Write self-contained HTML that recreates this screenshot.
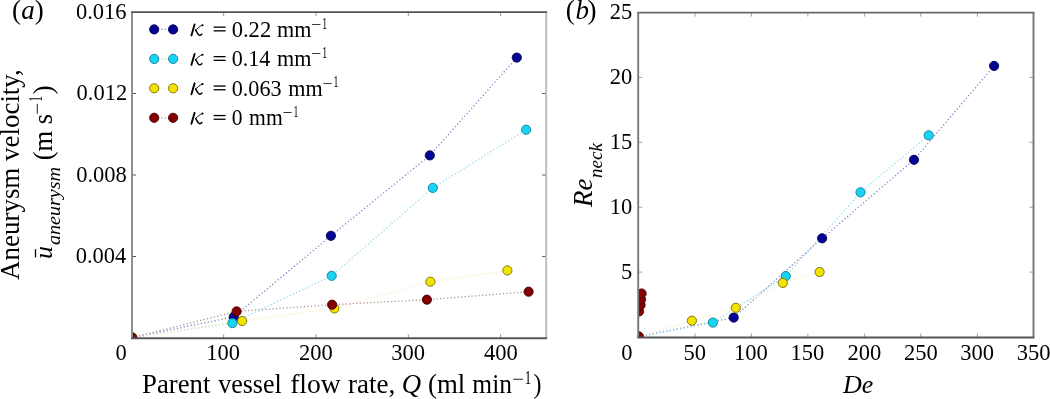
<!DOCTYPE html>
<html><head><meta charset="utf-8"><style>
html,body{margin:0;padding:0;background:#fff;}
body{width:1050px;height:399px;overflow:hidden;}
svg{display:block;will-change:transform;}
text{font-family:"Liberation Serif",serif;}
</style></head><body>
<svg width="1050" height="399" viewBox="0 0 1050 399">
<rect width="1050" height="399" fill="#fff"/>
<defs><clipPath id="cl"><rect x="132.0" y="12.1" width="414.2" height="326.1"/></clipPath><clipPath id="cr"><rect x="638.2" y="12.6" width="395.3" height="324.9"/></clipPath></defs>
<g clip-path="url(#cl)">
<polyline points="132.2,337.6 233.8,316.9 330.9,235.8 429.8,155.4 516.8,57.6" fill="none" stroke="#8a8ac8" stroke-width="1.3" stroke-dasharray="1.3 2.2"/>
<polyline points="132.2,337.6 232.4,323.1 331.7,275.8 432.8,187.9 526.1,129.7" fill="none" stroke="#94dcee" stroke-width="1.3" stroke-dasharray="1.3 2.2"/>
<polyline points="132.2,337.6 242.1,321.0 334.4,308.4 430.4,281.7 507.4,270.4" fill="none" stroke="#f2eebc" stroke-width="1.3" stroke-dasharray="1.3 2.2"/>
<polyline points="132.2,337.6 236.6,311.4 332.1,304.7 426.9,299.7 528.6,291.7" fill="none" stroke="#b4969e" stroke-width="1.3" stroke-dasharray="1.3 2.2"/>
<circle cx="132.2" cy="337.6" r="4.6" fill="#040494" stroke="#00004a" stroke-width="0.9"/>
<circle cx="233.8" cy="316.9" r="4.6" fill="#040494" stroke="#00004a" stroke-width="0.9"/>
<circle cx="330.9" cy="235.8" r="4.6" fill="#040494" stroke="#00004a" stroke-width="0.9"/>
<circle cx="429.8" cy="155.4" r="4.6" fill="#040494" stroke="#00004a" stroke-width="0.9"/>
<circle cx="516.8" cy="57.6" r="4.6" fill="#040494" stroke="#00004a" stroke-width="0.9"/>
<circle cx="132.2" cy="337.6" r="4.6" fill="#18d4f4" stroke="#0a7f99" stroke-width="0.9"/>
<circle cx="232.4" cy="323.1" r="4.6" fill="#18d4f4" stroke="#0a7f99" stroke-width="0.9"/>
<circle cx="331.7" cy="275.8" r="4.6" fill="#18d4f4" stroke="#0a7f99" stroke-width="0.9"/>
<circle cx="432.8" cy="187.9" r="4.6" fill="#18d4f4" stroke="#0a7f99" stroke-width="0.9"/>
<circle cx="526.1" cy="129.7" r="4.6" fill="#18d4f4" stroke="#0a7f99" stroke-width="0.9"/>
<circle cx="132.2" cy="337.6" r="4.6" fill="#f2e400" stroke="#7a6a00" stroke-width="0.9"/>
<circle cx="242.1" cy="321.0" r="4.6" fill="#f2e400" stroke="#7a6a00" stroke-width="0.9"/>
<circle cx="334.4" cy="308.4" r="4.6" fill="#f2e400" stroke="#7a6a00" stroke-width="0.9"/>
<circle cx="430.4" cy="281.7" r="4.6" fill="#f2e400" stroke="#7a6a00" stroke-width="0.9"/>
<circle cx="507.4" cy="270.4" r="4.6" fill="#f2e400" stroke="#7a6a00" stroke-width="0.9"/>
<circle cx="132.2" cy="337.6" r="4.6" fill="#850000" stroke="#450000" stroke-width="0.9"/>
<circle cx="236.6" cy="311.4" r="4.6" fill="#850000" stroke="#450000" stroke-width="0.9"/>
<circle cx="332.1" cy="304.7" r="4.6" fill="#850000" stroke="#450000" stroke-width="0.9"/>
<circle cx="426.9" cy="299.7" r="4.6" fill="#850000" stroke="#450000" stroke-width="0.9"/>
<circle cx="528.6" cy="291.7" r="4.6" fill="#850000" stroke="#450000" stroke-width="0.9"/>
</g>
<line x1="223.7" y1="338.2" x2="223.7" y2="334.2" stroke="#999" stroke-width="1"/>
<line x1="223.7" y1="12.1" x2="223.7" y2="16.1" stroke="#999" stroke-width="1"/>
<line x1="316.0" y1="338.2" x2="316.0" y2="334.2" stroke="#999" stroke-width="1"/>
<line x1="316.0" y1="12.1" x2="316.0" y2="16.1" stroke="#999" stroke-width="1"/>
<line x1="408.3" y1="338.2" x2="408.3" y2="334.2" stroke="#999" stroke-width="1"/>
<line x1="408.3" y1="12.1" x2="408.3" y2="16.1" stroke="#999" stroke-width="1"/>
<line x1="500.6" y1="338.2" x2="500.6" y2="334.2" stroke="#999" stroke-width="1"/>
<line x1="500.6" y1="12.1" x2="500.6" y2="16.1" stroke="#999" stroke-width="1"/>
<line x1="132.0" y1="256.5" x2="136.0" y2="256.5" stroke="#555" stroke-width="1"/>
<line x1="546.2" y1="256.5" x2="542.2" y2="256.5" stroke="#555" stroke-width="1"/>
<line x1="132.0" y1="175.0" x2="136.0" y2="175.0" stroke="#555" stroke-width="1"/>
<line x1="546.2" y1="175.0" x2="542.2" y2="175.0" stroke="#555" stroke-width="1"/>
<line x1="132.0" y1="93.5" x2="136.0" y2="93.5" stroke="#555" stroke-width="1"/>
<line x1="546.2" y1="93.5" x2="542.2" y2="93.5" stroke="#555" stroke-width="1"/>
<line x1="132.0" y1="12.1" x2="132.0" y2="338.2" stroke="#8a8a8a" stroke-width="1.9"/>
<line x1="546.2" y1="12.1" x2="546.2" y2="338.2" stroke="#bcbcbc" stroke-width="1.9"/>
<line x1="131.1" y1="12.1" x2="547.1" y2="12.1" stroke="#555" stroke-width="1.9"/>
<line x1="131.1" y1="338.2" x2="547.1" y2="338.2" stroke="#555" stroke-width="1.9"/>
<line x1="154.2" y1="29.4" x2="173.1" y2="29.4" stroke="#8a8ac8" stroke-width="1.3" stroke-dasharray="1.3 2.2"/>
<circle cx="154.2" cy="29.4" r="4.6" fill="#040494" stroke="#00004a" stroke-width="0.9"/>
<circle cx="173.1" cy="29.4" r="4.6" fill="#040494" stroke="#00004a" stroke-width="0.9"/>
<line x1="154.2" y1="58.9" x2="173.1" y2="58.9" stroke="#94dcee" stroke-width="1.3" stroke-dasharray="1.3 2.2"/>
<circle cx="154.2" cy="58.9" r="4.6" fill="#18d4f4" stroke="#0a7f99" stroke-width="0.9"/>
<circle cx="173.1" cy="58.9" r="4.6" fill="#18d4f4" stroke="#0a7f99" stroke-width="0.9"/>
<line x1="154.2" y1="88.3" x2="173.1" y2="88.3" stroke="#f2eebc" stroke-width="1.3" stroke-dasharray="1.3 2.2"/>
<circle cx="154.2" cy="88.3" r="4.6" fill="#f2e400" stroke="#7a6a00" stroke-width="0.9"/>
<circle cx="173.1" cy="88.3" r="4.6" fill="#f2e400" stroke="#7a6a00" stroke-width="0.9"/>
<line x1="154.2" y1="117.8" x2="173.1" y2="117.8" stroke="#b4969e" stroke-width="1.3" stroke-dasharray="1.3 2.2"/>
<circle cx="154.2" cy="117.8" r="4.6" fill="#850000" stroke="#450000" stroke-width="0.9"/>
<circle cx="173.1" cy="117.8" r="4.6" fill="#850000" stroke="#450000" stroke-width="0.9"/>
<g transform="translate(0,0.00)" fill="none" stroke="#000" stroke-linecap="round"><path d="M191.4,35.4 L194.6,24.4" stroke-width="1.9"/><path d="M195.4,30.3 C197.4,28.6 199.9,25.9 202.2,25.1" stroke-width="0.95"/><circle cx="202.5" cy="25.2" r="1.05" fill="#000" stroke="none"/><path d="M195.6,30.0 C196.5,31.4 197.5,33.5 198.5,34.7 C199.3,35.6 200.9,35.4 201.9,34.1" stroke-width="1.45"/></g>
<rect x="213.60" y="26.50" width="12.00" height="1.30" fill="#000"/>
<rect x="213.60" y="30.20" width="12.00" height="1.30" fill="#000"/>
<text x="231.70" y="36.80" font-family="Liberation Serif" font-size="22.5" textLength="39.48" lengthAdjust="spacingAndGlyphs" >0.22</text>
<text x="277.01" y="36.80" font-family="Liberation Serif" font-size="22.5" textLength="34.39" lengthAdjust="spacingAndGlyphs" >mm</text>
<text x="311.21" y="29.80" font-family="Liberation Serif" font-size="16" textLength="10.00" lengthAdjust="spacingAndGlyphs" >−</text>
<text x="322.25" y="28.50" font-family="Liberation Serif" font-size="16" textLength="4.86" lengthAdjust="spacingAndGlyphs" >1</text>
<g transform="translate(0,29.50)" fill="none" stroke="#000" stroke-linecap="round"><path d="M191.4,35.4 L194.6,24.4" stroke-width="1.9"/><path d="M195.4,30.3 C197.4,28.6 199.9,25.9 202.2,25.1" stroke-width="0.95"/><circle cx="202.5" cy="25.2" r="1.05" fill="#000" stroke="none"/><path d="M195.6,30.0 C196.5,31.4 197.5,33.5 198.5,34.7 C199.3,35.6 200.9,35.4 201.9,34.1" stroke-width="1.45"/></g>
<rect x="213.60" y="56.00" width="12.00" height="1.30" fill="#000"/>
<rect x="213.60" y="59.70" width="12.00" height="1.30" fill="#000"/>
<text x="231.72" y="66.30" font-family="Liberation Serif" font-size="22.5" textLength="38.55" lengthAdjust="spacingAndGlyphs" >0.14</text>
<text x="277.01" y="66.30" font-family="Liberation Serif" font-size="22.5" textLength="34.39" lengthAdjust="spacingAndGlyphs" >mm</text>
<text x="311.21" y="59.30" font-family="Liberation Serif" font-size="16" textLength="10.00" lengthAdjust="spacingAndGlyphs" >−</text>
<text x="322.25" y="58.00" font-family="Liberation Serif" font-size="16" textLength="4.86" lengthAdjust="spacingAndGlyphs" >1</text>
<g transform="translate(0,58.90)" fill="none" stroke="#000" stroke-linecap="round"><path d="M191.4,35.4 L194.6,24.4" stroke-width="1.9"/><path d="M195.4,30.3 C197.4,28.6 199.9,25.9 202.2,25.1" stroke-width="0.95"/><circle cx="202.5" cy="25.2" r="1.05" fill="#000" stroke="none"/><path d="M195.6,30.0 C196.5,31.4 197.5,33.5 198.5,34.7 C199.3,35.6 200.9,35.4 201.9,34.1" stroke-width="1.45"/></g>
<rect x="213.60" y="85.40" width="12.00" height="1.30" fill="#000"/>
<rect x="213.60" y="89.10" width="12.00" height="1.30" fill="#000"/>
<text x="231.71" y="95.70" font-family="Liberation Serif" font-size="22.5" textLength="49.90" lengthAdjust="spacingAndGlyphs" >0.063</text>
<text x="288.21" y="95.70" font-family="Liberation Serif" font-size="22.5" textLength="34.39" lengthAdjust="spacingAndGlyphs" >mm</text>
<text x="322.41" y="88.70" font-family="Liberation Serif" font-size="16" textLength="10.00" lengthAdjust="spacingAndGlyphs" >−</text>
<text x="333.45" y="87.40" font-family="Liberation Serif" font-size="16" textLength="4.86" lengthAdjust="spacingAndGlyphs" >1</text>
<g transform="translate(0,88.40)" fill="none" stroke="#000" stroke-linecap="round"><path d="M191.4,35.4 L194.6,24.4" stroke-width="1.9"/><path d="M195.4,30.3 C197.4,28.6 199.9,25.9 202.2,25.1" stroke-width="0.95"/><circle cx="202.5" cy="25.2" r="1.05" fill="#000" stroke="none"/><path d="M195.6,30.0 C196.5,31.4 197.5,33.5 198.5,34.7 C199.3,35.6 200.9,35.4 201.9,34.1" stroke-width="1.45"/></g>
<rect x="213.60" y="114.90" width="12.00" height="1.30" fill="#000"/>
<rect x="213.60" y="118.60" width="12.00" height="1.30" fill="#000"/>
<text x="231.74" y="125.20" font-family="Liberation Serif" font-size="22.5" textLength="10.78" lengthAdjust="spacingAndGlyphs" >0</text>
<text x="249.12" y="125.20" font-family="Liberation Serif" font-size="22.5" textLength="33.57" lengthAdjust="spacingAndGlyphs" >mm</text>
<text x="282.51" y="118.20" font-family="Liberation Serif" font-size="16" textLength="10.00" lengthAdjust="spacingAndGlyphs" >−</text>
<text x="293.55" y="116.90" font-family="Liberation Serif" font-size="16" textLength="4.86" lengthAdjust="spacingAndGlyphs" >1</text>
<text x="76.00" y="18.70" font-family="Liberation Serif" font-size="23.3" textLength="50.62" lengthAdjust="spacingAndGlyphs" >0.016</text>
<text x="76.60" y="100.10" font-family="Liberation Serif" font-size="23.3" textLength="50.62" lengthAdjust="spacingAndGlyphs" >0.012</text>
<text x="76.20" y="181.60" font-family="Liberation Serif" font-size="23.3" textLength="50.62" lengthAdjust="spacingAndGlyphs" >0.008</text>
<text x="75.70" y="263.10" font-family="Liberation Serif" font-size="23.3" textLength="50.62" lengthAdjust="spacingAndGlyphs" >0.004</text>
<text x="115.60" y="360.40" font-family="Liberation Serif" font-size="23.3" textLength="11.25" lengthAdjust="spacingAndGlyphs" >0</text>
<text x="206.25" y="360.40" font-family="Liberation Serif" font-size="23.3" textLength="33.75" lengthAdjust="spacingAndGlyphs" >100</text>
<text x="299.05" y="360.40" font-family="Liberation Serif" font-size="23.3" textLength="33.75" lengthAdjust="spacingAndGlyphs" >200</text>
<text x="391.30" y="360.40" font-family="Liberation Serif" font-size="23.3" textLength="33.75" lengthAdjust="spacingAndGlyphs" >300</text>
<text x="483.95" y="360.40" font-family="Liberation Serif" font-size="23.3" textLength="33.75" lengthAdjust="spacingAndGlyphs" >400</text>
<text x="142.09" y="393.00" font-family="Liberation Serif" font-size="26.3" textLength="68.30" lengthAdjust="spacingAndGlyphs" style="font-variant-ligatures:none">Parent</text>
<text x="218.20" y="393.00" font-family="Liberation Serif" font-size="26.3" textLength="63.57" lengthAdjust="spacingAndGlyphs" style="font-variant-ligatures:none">vessel</text>
<text x="290.16" y="393.00" font-family="Liberation Serif" font-size="26.3" textLength="50.65" lengthAdjust="spacingAndGlyphs" style="font-variant-ligatures:none">flow</text>
<text x="348.09" y="393.00" font-family="Liberation Serif" font-size="26.3" textLength="47.25" lengthAdjust="spacingAndGlyphs" style="font-variant-ligatures:none">rate,</text>
<text x="401.67" y="393.00" font-family="Liberation Serif" font-size="26.3" font-style="italic" textLength="19.33" lengthAdjust="spacingAndGlyphs" style="font-variant-ligatures:none">Q</text>
<text x="427.98" y="393.00" font-family="Liberation Serif" font-size="26.3" textLength="37.25" lengthAdjust="spacingAndGlyphs" style="font-variant-ligatures:none">(ml</text>
<text x="472.32" y="393.00" font-family="Liberation Serif" font-size="26.3" textLength="39.69" lengthAdjust="spacingAndGlyphs" style="font-variant-ligatures:none">min</text>
<text x="533.57" y="393.00" font-family="Liberation Serif" font-size="26.3" textLength="7.99" lengthAdjust="spacingAndGlyphs" style="font-variant-ligatures:none">)</text>
<text x="512.37" y="385.40" font-family="Liberation Serif" font-size="18" textLength="11.60" lengthAdjust="spacingAndGlyphs" >−</text>
<text x="524.66" y="384.00" font-family="Liberation Serif" font-size="18" textLength="6.43" lengthAdjust="spacingAndGlyphs" >1</text>
<text x="12.00" y="19.30" font-family="Liberation Serif" font-size="27" >(</text>
<text x="21.20" y="19.30" font-family="Liberation Serif" font-size="27" font-style="italic" >a</text>
<text x="34.70" y="19.30" font-family="Liberation Serif" font-size="27" >)</text>
<text transform="translate(19.40,279.90) rotate(-90)" font-family="Liberation Serif" font-size="27" textLength="210.70" lengthAdjust="spacingAndGlyphs">Aneurysm velocity,</text>
<text transform="translate(51.70,259.10) rotate(-90)" font-family="Liberation Serif" font-size="26" font-style="italic">u</text>
<line x1="35.5" y1="249.2" x2="35.5" y2="257.4" stroke="#000" stroke-width="1.3"/>
<text transform="translate(60.30,245.12) rotate(-90)" font-family="Liberation Serif" font-size="19.5" font-style="italic" textLength="78.17" lengthAdjust="spacingAndGlyphs">aneurysm</text>
<text transform="translate(52.00,160.31) rotate(-90)" font-family="Liberation Serif" font-size="26.3" textLength="46.44" lengthAdjust="spacingAndGlyphs">(m s</text>
<text transform="translate(43.30,114.67) rotate(-90)" font-family="Liberation Serif" font-size="18" textLength="12.09" lengthAdjust="spacingAndGlyphs">−</text>
<text transform="translate(42.40,101.51) rotate(-90)" font-family="Liberation Serif" font-size="18.5" textLength="5.27" lengthAdjust="spacingAndGlyphs">1</text>
<text transform="translate(52.40,94.43) rotate(-90)" font-family="Liberation Serif" font-size="27" textLength="9.25" lengthAdjust="spacingAndGlyphs">)</text>
<g clip-path="url(#cr)">
<polyline points="638.8,336.6 733.7,317.6 822.1,238.3 914.0,159.8 994.1,65.9" fill="none" stroke="#8a8ac8" stroke-width="1.3" stroke-dasharray="1.3 2.2"/>
<polyline points="638.8,336.6 712.9,322.6 785.8,276.1 860.5,192.3 928.7,135.3" fill="none" stroke="#94dcee" stroke-width="1.3" stroke-dasharray="1.3 2.2"/>
<polyline points="638.8,336.6 691.9,320.7 735.8,307.8 782.8,282.9 819.6,272.0" fill="none" stroke="#f2eebc" stroke-width="1.3" stroke-dasharray="1.3 2.2"/>
<polyline points="638.4,336.6 639.0,311.5 640.6,305.0 641.0,299.5 641.6,293.5" fill="none" stroke="#b4969e" stroke-width="1.3" stroke-dasharray="1.3 2.2"/>
<circle cx="638.8" cy="336.6" r="4.6" fill="#040494" stroke="#00004a" stroke-width="0.9"/>
<circle cx="733.7" cy="317.6" r="4.6" fill="#040494" stroke="#00004a" stroke-width="0.9"/>
<circle cx="822.1" cy="238.3" r="4.6" fill="#040494" stroke="#00004a" stroke-width="0.9"/>
<circle cx="914.0" cy="159.8" r="4.6" fill="#040494" stroke="#00004a" stroke-width="0.9"/>
<circle cx="994.1" cy="65.9" r="4.6" fill="#040494" stroke="#00004a" stroke-width="0.9"/>
<circle cx="638.8" cy="336.6" r="4.6" fill="#18d4f4" stroke="#0a7f99" stroke-width="0.9"/>
<circle cx="712.9" cy="322.6" r="4.6" fill="#18d4f4" stroke="#0a7f99" stroke-width="0.9"/>
<circle cx="785.8" cy="276.1" r="4.6" fill="#18d4f4" stroke="#0a7f99" stroke-width="0.9"/>
<circle cx="860.5" cy="192.3" r="4.6" fill="#18d4f4" stroke="#0a7f99" stroke-width="0.9"/>
<circle cx="928.7" cy="135.3" r="4.6" fill="#18d4f4" stroke="#0a7f99" stroke-width="0.9"/>
<circle cx="638.8" cy="336.6" r="4.6" fill="#f2e400" stroke="#7a6a00" stroke-width="0.9"/>
<circle cx="691.9" cy="320.7" r="4.6" fill="#f2e400" stroke="#7a6a00" stroke-width="0.9"/>
<circle cx="735.8" cy="307.8" r="4.6" fill="#f2e400" stroke="#7a6a00" stroke-width="0.9"/>
<circle cx="782.8" cy="282.9" r="4.6" fill="#f2e400" stroke="#7a6a00" stroke-width="0.9"/>
<circle cx="819.6" cy="272.0" r="4.6" fill="#f2e400" stroke="#7a6a00" stroke-width="0.9"/>
<circle cx="638.4" cy="336.6" r="4.6" fill="#850000" stroke="#450000" stroke-width="0.9"/>
<circle cx="639.0" cy="311.5" r="4.6" fill="#850000" stroke="#450000" stroke-width="0.9"/>
<circle cx="640.6" cy="305.0" r="4.6" fill="#850000" stroke="#450000" stroke-width="0.9"/>
<circle cx="641.0" cy="299.5" r="4.6" fill="#850000" stroke="#450000" stroke-width="0.9"/>
<circle cx="641.6" cy="293.5" r="4.6" fill="#850000" stroke="#450000" stroke-width="0.9"/>
</g>
<line x1="695.0" y1="337.5" x2="695.0" y2="333.5" stroke="#a0a0a0" stroke-width="1"/>
<line x1="695.0" y1="12.6" x2="695.0" y2="16.6" stroke="#a0a0a0" stroke-width="1"/>
<line x1="751.4" y1="337.5" x2="751.4" y2="333.5" stroke="#a0a0a0" stroke-width="1"/>
<line x1="751.4" y1="12.6" x2="751.4" y2="16.6" stroke="#a0a0a0" stroke-width="1"/>
<line x1="807.9" y1="337.5" x2="807.9" y2="333.5" stroke="#a0a0a0" stroke-width="1"/>
<line x1="807.9" y1="12.6" x2="807.9" y2="16.6" stroke="#a0a0a0" stroke-width="1"/>
<line x1="864.4" y1="337.5" x2="864.4" y2="333.5" stroke="#a0a0a0" stroke-width="1"/>
<line x1="864.4" y1="12.6" x2="864.4" y2="16.6" stroke="#a0a0a0" stroke-width="1"/>
<line x1="920.8" y1="337.5" x2="920.8" y2="333.5" stroke="#a0a0a0" stroke-width="1"/>
<line x1="920.8" y1="12.6" x2="920.8" y2="16.6" stroke="#a0a0a0" stroke-width="1"/>
<line x1="977.3" y1="337.5" x2="977.3" y2="333.5" stroke="#a0a0a0" stroke-width="1"/>
<line x1="977.3" y1="12.6" x2="977.3" y2="16.6" stroke="#a0a0a0" stroke-width="1"/>
<line x1="638.2" y1="272.1" x2="642.2" y2="272.1" stroke="#a0a0a0" stroke-width="1"/>
<line x1="1033.5" y1="272.1" x2="1029.5" y2="272.1" stroke="#a0a0a0" stroke-width="1"/>
<line x1="638.2" y1="207.2" x2="642.2" y2="207.2" stroke="#a0a0a0" stroke-width="1"/>
<line x1="1033.5" y1="207.2" x2="1029.5" y2="207.2" stroke="#a0a0a0" stroke-width="1"/>
<line x1="638.2" y1="142.3" x2="642.2" y2="142.3" stroke="#a0a0a0" stroke-width="1"/>
<line x1="1033.5" y1="142.3" x2="1029.5" y2="142.3" stroke="#a0a0a0" stroke-width="1"/>
<line x1="638.2" y1="77.4" x2="642.2" y2="77.4" stroke="#a0a0a0" stroke-width="1"/>
<line x1="1033.5" y1="77.4" x2="1029.5" y2="77.4" stroke="#a0a0a0" stroke-width="1"/>
<line x1="638.2" y1="12.6" x2="638.2" y2="337.5" stroke="#777" stroke-width="1.9"/>
<line x1="1033.5" y1="12.6" x2="1033.5" y2="337.5" stroke="#777" stroke-width="1.9"/>
<line x1="637.3000000000001" y1="12.6" x2="1034.4" y2="12.6" stroke="#6a6a6a" stroke-width="1.9"/>
<line x1="637.3000000000001" y1="337.5" x2="1034.4" y2="337.5" stroke="#555" stroke-width="1.9"/>
<text x="609.70" y="19.10" font-family="Liberation Serif" font-size="23.3" textLength="22.50" lengthAdjust="spacingAndGlyphs" >25</text>
<text x="609.70" y="84.00" font-family="Liberation Serif" font-size="23.3" textLength="22.50" lengthAdjust="spacingAndGlyphs" >20</text>
<text x="609.70" y="148.90" font-family="Liberation Serif" font-size="23.3" textLength="22.50" lengthAdjust="spacingAndGlyphs" >15</text>
<text x="609.70" y="213.80" font-family="Liberation Serif" font-size="23.3" textLength="22.50" lengthAdjust="spacingAndGlyphs" >10</text>
<text x="621.00" y="278.70" font-family="Liberation Serif" font-size="23.3" textLength="11.25" lengthAdjust="spacingAndGlyphs" >5</text>
<text x="621.20" y="360.40" font-family="Liberation Serif" font-size="23.3" textLength="11.25" lengthAdjust="spacingAndGlyphs" >0</text>
<text x="683.47" y="360.40" font-family="Liberation Serif" font-size="23.3" textLength="22.50" lengthAdjust="spacingAndGlyphs" >50</text>
<text x="733.99" y="360.40" font-family="Liberation Serif" font-size="23.3" textLength="33.75" lengthAdjust="spacingAndGlyphs" >100</text>
<text x="790.46" y="360.40" font-family="Liberation Serif" font-size="23.3" textLength="33.75" lengthAdjust="spacingAndGlyphs" >150</text>
<text x="847.43" y="360.40" font-family="Liberation Serif" font-size="23.3" textLength="33.75" lengthAdjust="spacingAndGlyphs" >200</text>
<text x="903.90" y="360.40" font-family="Liberation Serif" font-size="23.3" textLength="33.75" lengthAdjust="spacingAndGlyphs" >250</text>
<text x="960.32" y="360.40" font-family="Liberation Serif" font-size="23.3" textLength="33.75" lengthAdjust="spacingAndGlyphs" >300</text>
<text x="1016.79" y="360.40" font-family="Liberation Serif" font-size="23.3" textLength="33.75" lengthAdjust="spacingAndGlyphs" >350</text>
<text x="843.00" y="393.00" font-family="Liberation Serif" font-size="26" font-style="italic" >De</text>
<text x="565.70" y="19.30" font-family="Liberation Serif" font-size="27" >(</text>
<text x="575.40" y="19.30" font-family="Liberation Serif" font-size="27" font-style="italic" >b</text>
<text x="587.50" y="19.30" font-family="Liberation Serif" font-size="27" >)</text>
<text transform="translate(592.30,206.90) rotate(-90)" font-family="Liberation Serif" font-size="27" font-style="italic">Re</text>
<text transform="translate(602.00,177.90) rotate(-90)" font-family="Liberation Serif" font-size="19" font-style="italic">neck</text>
</svg>
</body></html>
